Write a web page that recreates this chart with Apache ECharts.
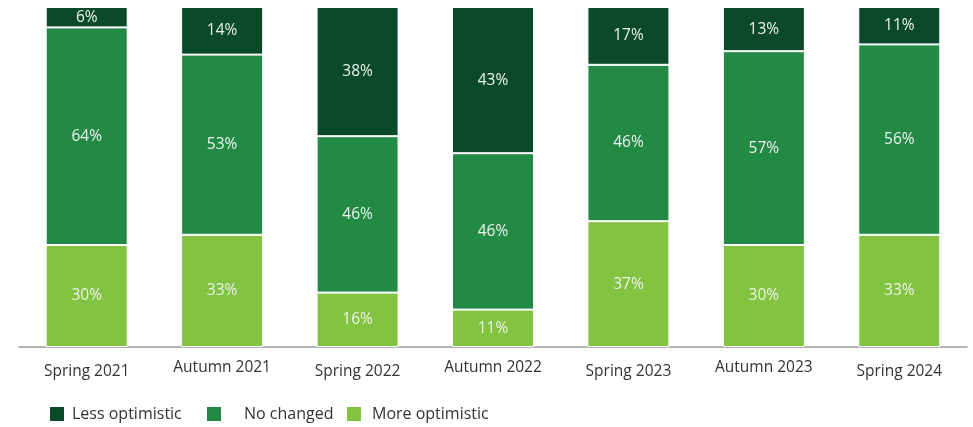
<!DOCTYPE html>
<html>
<head>
<meta charset="utf-8">
<script src="https://cdn.jsdelivr.net/npm/echarts@6/dist/echarts.min.js"></script>
<style>
  html, body { margin: 0; padding: 0; background: #fff; }
  #chart { width: 973px; height: 427px; }
</style>
</head>
<body>
<div id="chart"></div>
<script>
// Survey waves
const categories = ['Spring 2021', 'Autumn 2021', 'Spring 2022', 'Autumn 2022', 'Spring 2023', 'Autumn 2023', 'Spring 2024'];
// Share of respondents (%) per outlook
const moreOptimistic = [30, 33, 16, 11, 37, 30, 33];
const noChanged = [64, 53, 46, 46, 46, 57, 56];
const lessOptimistic = [6, 14, 38, 43, 17, 13, 11];

const seriesNames = ['Less optimistic', 'No changed', 'More optimistic'];
const colors = { less: '#0a4a2b', same: '#228a45', more: '#82c341' };
const FONT = '"Open Sans", "Noto Sans", sans-serif';

function stackSeries(name, data, color) {
  return {
    name: name,
    type: 'bar',
    stack: 'total',
    data: data,
    barWidth: 82,
    itemStyle: { color: color, borderColor: '#ffffff', borderWidth: 1 },
    label: {
      show: true,
      position: 'inside',
      formatter: '{c}%',
      color: '#eef3ee',
      fontFamily: FONT,
      fontSize: 15.5
    },
    emphasis: { disabled: true }
  };
}

function legendAt(name, left, gap) {
  return {
    data: [name],
    left: left,
    top: 405,
    padding: 0,
    itemWidth: 16,
    itemHeight: 16,
    itemGap: 0,
    icon: 'rect',
    textStyle: { color: '#333', fontFamily: FONT, fontSize: 16, padding: [0, 0, 0, gap] }
  };
}

const chart = echarts.init(document.getElementById('chart'), null, { renderer: 'canvas' });
chart.setOption({
  animation: false,
  legend: [
    legendAt(seriesNames[0], 48, 2),
    legendAt(seriesNames[1], 205, 17),
    legendAt(seriesNames[2], 345, 5)
  ],
  grid: { left: 19, right: 6, top: 7, bottom: 80, containLabel: false },
  xAxis: {
    type: 'category',
    data: categories,
    axisLine: { show: true, lineStyle: { color: '#9a9a9a', width: 1.5 } },
    axisTick: { show: false },
    axisLabel: {
      color: '#333',
      fontFamily: FONT,
      fontSize: 15.5,
      margin: 12,
      interval: 0,
      formatter: function (v) {
        return v.indexOf('Spring') === 0 ? '{s|' + v + '}' : '{a|' + v + '}';
      },
      rich: {
        s: { fontFamily: FONT, fontSize: 15.5, color: '#333', padding: [5, 0, 0, 0] },
        a: { fontFamily: FONT, fontSize: 15.5, color: '#333', padding: [1, 0, 0, 0] }
      }
    }
  },
  yAxis: {
    type: 'value',
    min: 0,
    max: 100,
    show: false,
    splitLine: { show: false }
  },
  series: [
    stackSeries(seriesNames[2], moreOptimistic, colors.more),
    stackSeries(seriesNames[1], noChanged, colors.same),
    stackSeries(seriesNames[0], lessOptimistic, colors.less)
  ]
});
</script>
</body>
</html>
